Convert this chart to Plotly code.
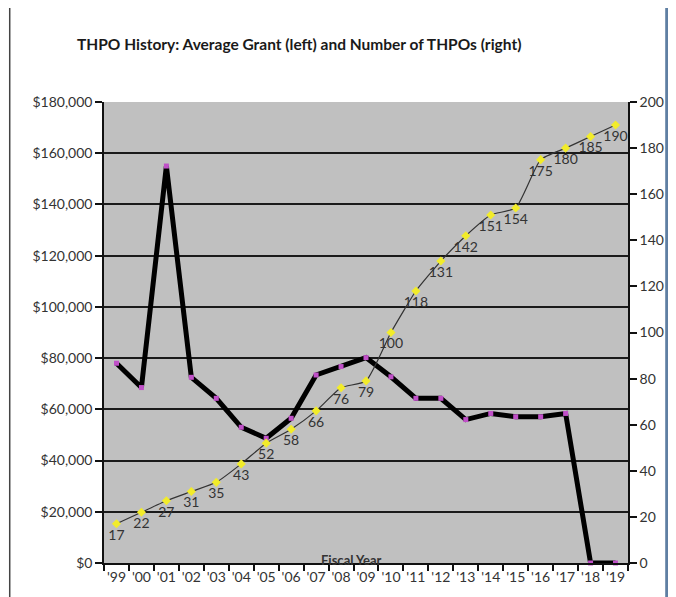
import plotly.graph_objects as go

years = ["'99", "'00", "'01", "'02", "'03", "'04", "'05", "'06", "'07", "'08", "'09",
         "'10", "'11", "'12", "'13", "'14", "'15", "'16", "'17", "'18", "'19"]
avg_grant = [78000, 68500, 155000, 72500, 64300, 53000, 48700, 56500, 73400, 76700, 80200,
             72700, 64300, 64300, 56000, 58400, 57100, 57100, 58400, 0, 0]
num_thpos = [17, 22, 27, 31, 35, 43, 52, 58, 66, 76, 79,
             100, 118, 131, 142, 151, 154, 175, 180, 185, 190]

OFF = 8  # page body margin
W, H = 676 - OFF, 597 - OFF
L, R, T, B = 104, 632, 102, 563  # plot area in reference pixels
def px(x):
    return (x - L) / (R - L)
def py(y):
    return (B - y) / (B - T)

FONT = "Lato"
fig = go.Figure()
fig.add_trace(go.Scatter(
    x=years, y=avg_grant, mode="lines+markers",
    line=dict(color="#000000", width=5),
    marker=dict(symbol="square", size=5, color="#c050c8"),
    cliponaxis=False, yaxis="y", showlegend=False))
fig.add_trace(go.Scatter(
    x=years, y=num_thpos, mode="lines+markers+text",
    text=[str(v) for v in num_thpos], textposition="bottom center",
    textfont=dict(family=FONT, size=14, color="#333333"),
    line=dict(color="#333333", width=1.2, shape="spline", smoothing=0.5),
    marker=dict(symbol="diamond", size=7, color="#f2ec2a"),
    cliponaxis=False, yaxis="y2", showlegend=False))

fig.update_layout(
    width=W, height=H,
    margin=dict(l=L - OFF, r=676 - R, t=T - OFF, b=597 - B, pad=0),
    paper_bgcolor="white", plot_bgcolor="#c0c0c0",
    font=dict(family=FONT, size=14, color="#333333"),
    xaxis=dict(type="category", range=[-0.5, 20.5], showgrid=False,
               showline=True, linecolor="#111", linewidth=1.5,
               ticks="outside", tickson="boundaries", ticklen=6, tickcolor="#111",
               tickwidth=1.5, tickangle=0, tickfont=dict(size=14, color="#333")),
    yaxis=dict(range=[0, 180000], dtick=20000, tickprefix="$", tickformat=",d",
               showgrid=True, gridcolor="#1a1a1a", gridwidth=1.5,
               showline=True, linecolor="#111", linewidth=1.5, zeroline=False,
               ticks="outside", ticklen=7, tickcolor="#111", tickwidth=1.5),
    yaxis2=dict(range=[0, 200], dtick=20, overlaying="y", side="right",
                showgrid=False, showline=True, linecolor="#111", linewidth=1.5,
                zeroline=False, ticks="outside", ticklen=7, tickcolor="#111",
                tickwidth=1.5),
    shapes=[
        dict(type="line", xref="paper", yref="paper", x0=px(9), x1=px(9), y0=py(5), y1=py(620),
             line=dict(color="#444", width=1.5)),
        dict(type="line", xref="paper", yref="paper", x0=px(9), x1=px(671), y0=py(5), y1=py(5),
             line=dict(color="#444", width=1.5)),
        dict(type="line", xref="paper", yref="paper", x0=px(671), x1=px(671), y0=py(5), y1=py(620),
             line=dict(color="#5f7fa3", width=3)),
    ],
    annotations=[
        dict(text="<b>THPO History: Average Grant (left) and Number of THPOs (right)</b>",
             xref="paper", yref="paper", x=px(75), y=py(44), xanchor="left", yanchor="middle",
             showarrow=False, font=dict(family=FONT, size=15.5, color="#1a1a1a")),
        dict(text="<b>Fiscal Year</b>", xref="paper", yref="paper", x=px(353), y=py(560),
             xanchor="center", yanchor="middle", showarrow=False,
             font=dict(family=FONT, size=13, color="#333")),
    ],
)
fig.write_html("out.html")
